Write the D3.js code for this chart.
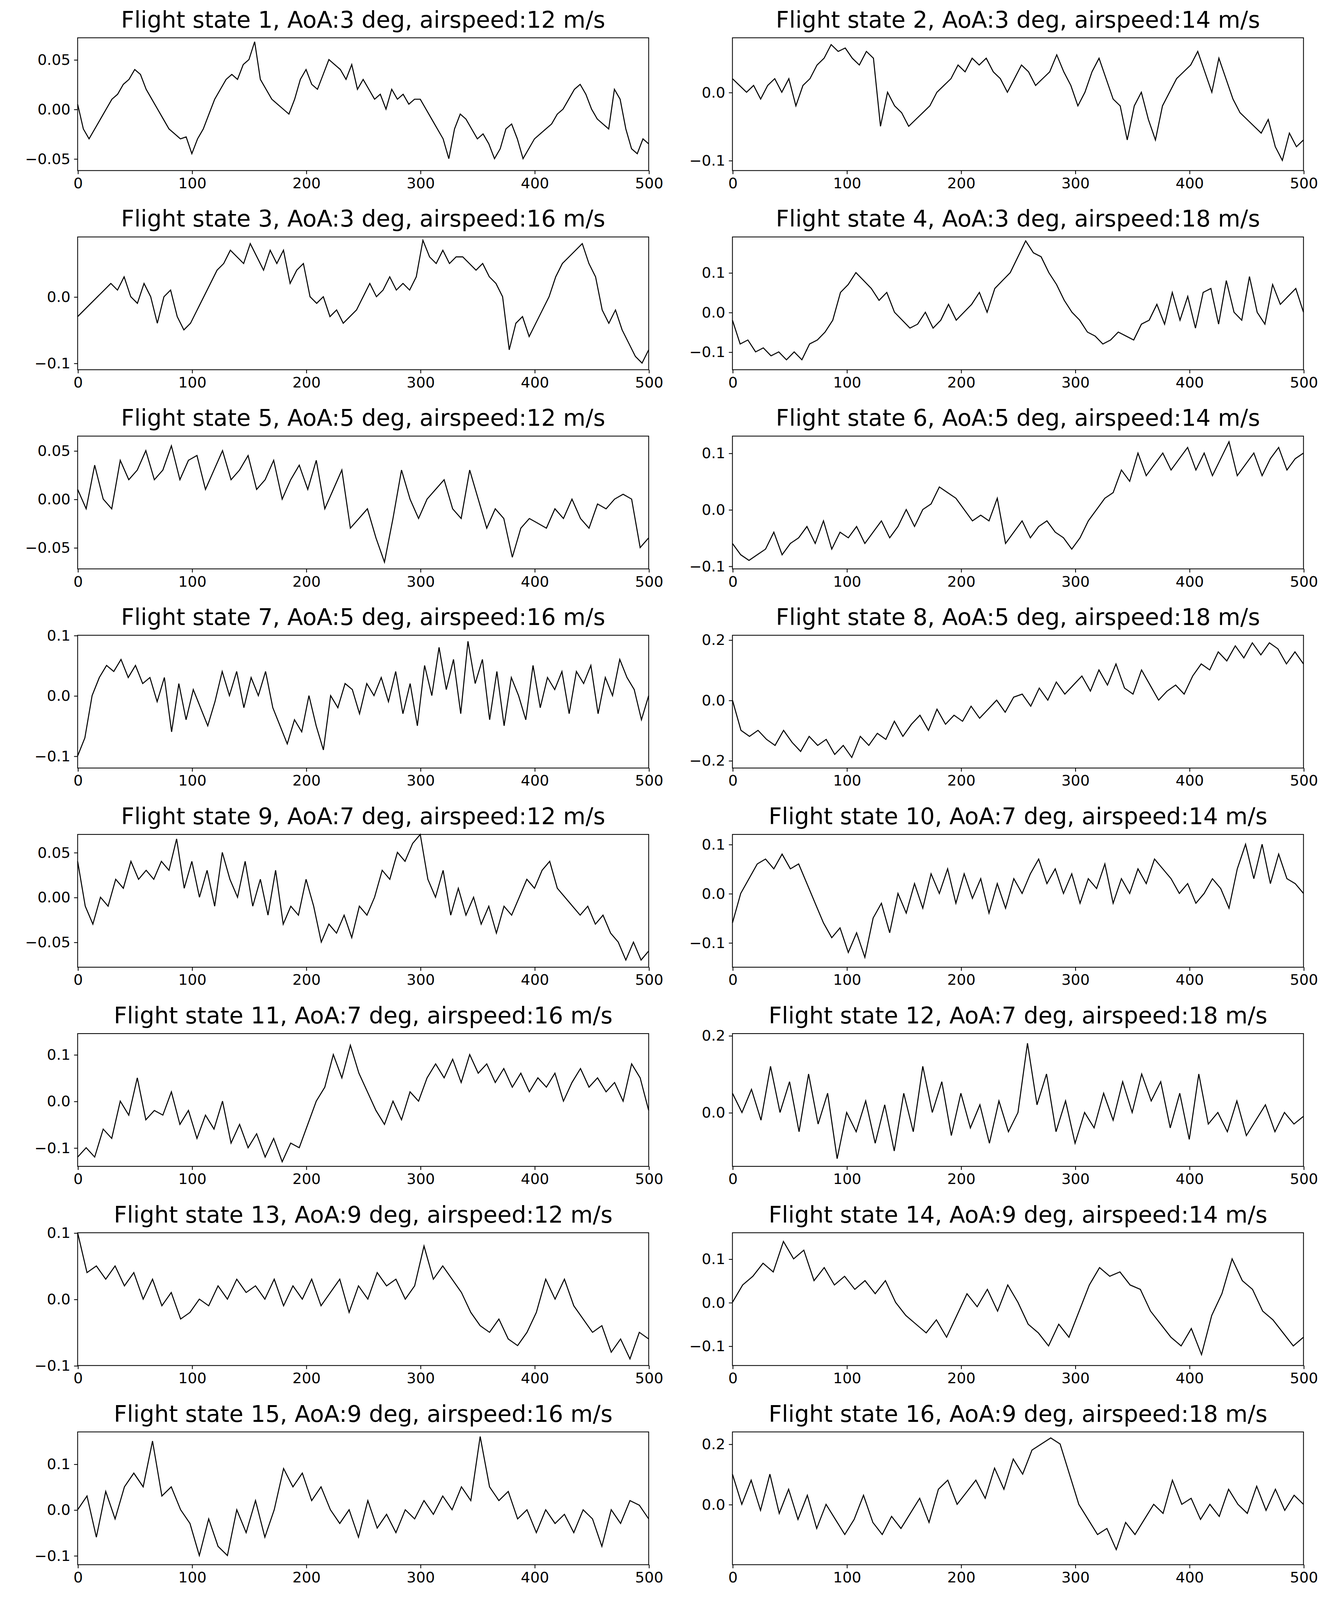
<!DOCTYPE html>
<html><head><meta charset="utf-8">
<script src="https://cdn.jsdelivr.net/npm/d3@7"></script>
<style>body{margin:0;background:#fff}text{font-family:"DejaVu Sans",sans-serif}</style>
</head><body><div id="chart"></div>
<script>
// panel titles
const titles = [];
const aoas = [3,3,3,3,5,5,5,5,7,7,7,7,9,9,9,9];
const speeds = [12,14,16,18,12,14,16,18,12,14,16,18,12,14,16,18];
aoas.forEach((a,i) => titles.push("Flight state " + (i+1) + ", AoA:" + a + " deg, airspeed:" + speeds[i] + " m/s"));

const yDomains = [
  [-0.062,0.072],[-0.115,0.08],[-0.11,0.09],[-0.145,0.19],
  [-0.072,0.065],[-0.105,0.13],[-0.12,0.1],[-0.225,0.215],
  [-0.078,0.07],[-0.15,0.12],[-0.14,0.145],[-0.14,0.205],
  [-0.1,0.1],[-0.145,0.16],[-0.12,0.17],[-0.2,0.24]
];
const yTicks = [
  [-0.05,0,0.05],[-0.1,0],[-0.1,0],[-0.1,0,0.1],
  [-0.05,0,0.05],[-0.1,0,0.1],[-0.1,0,0.1],[-0.2,0,0.2],
  [-0.05,0,0.05],[-0.1,0,0.1],[-0.1,0,0.1],[0,0.2],
  [-0.1,0,0.1],[-0.1,0,0.1],[-0.1,0,0.1],[0,0.2]
];
const xTicks = [0,100,200,300,400,500];

// series values, evenly spaced over samples 0..500
const s1 = [0.005,-0.02,-0.03,-0.02,-0.01,0.0,0.01,0.015,0.025,0.03,0.04,0.035,0.02,0.01,0.0,-0.01,-0.02,-0.025,-0.03,-0.028,-0.045,-0.03,-0.02,-0.005,0.01,0.02,0.03,0.035,0.03,0.045,0.05,0.068,0.03,0.02,0.01,0.005,0.0,-0.005,0.01,0.03,0.04,0.025,0.02,0.035,0.05,0.045,0.04,0.03,0.045,0.02,0.03,0.02,0.01,0.015,0.0,0.02,0.01,0.015,0.005,0.01,0.01,0.0,-0.01,-0.02,-0.03,-0.05,-0.02,-0.005,-0.01,-0.02,-0.03,-0.025,-0.035,-0.05,-0.04,-0.02,-0.015,-0.03,-0.05,-0.04,-0.03,-0.025,-0.02,-0.015,-0.005,0.0,0.01,0.02,0.025,0.015,0.0,-0.01,-0.015,-0.02,0.02,0.01,-0.02,-0.04,-0.045,-0.03,-0.035];
const s2 = [0.02,0.01,0.0,0.01,-0.01,0.01,0.02,0.0,0.02,-0.02,0.01,0.02,0.04,0.05,0.07,0.06,0.065,0.05,0.04,0.06,0.05,-0.05,0.0,-0.02,-0.03,-0.05,-0.04,-0.03,-0.02,0.0,0.01,0.02,0.04,0.03,0.05,0.04,0.05,0.03,0.02,0.0,0.02,0.04,0.03,0.01,0.02,0.03,0.055,0.03,0.01,-0.02,0.0,0.03,0.05,0.02,-0.01,-0.02,-0.07,-0.02,0.0,-0.04,-0.07,-0.02,0.0,0.02,0.03,0.04,0.06,0.03,0.0,0.05,0.02,-0.01,-0.03,-0.04,-0.05,-0.06,-0.04,-0.08,-0.1,-0.06,-0.08,-0.07];
const s3 = [-0.03,-0.02,-0.01,0.0,0.01,0.02,0.01,0.03,0.0,-0.01,0.02,0.0,-0.04,0.0,0.01,-0.03,-0.05,-0.04,-0.02,0.0,0.02,0.04,0.05,0.07,0.06,0.05,0.08,0.06,0.04,0.07,0.05,0.07,0.02,0.04,0.05,0.0,-0.01,0.0,-0.03,-0.02,-0.04,-0.03,-0.02,0.0,0.02,0.0,0.01,0.03,0.01,0.02,0.01,0.03,0.085,0.06,0.05,0.07,0.05,0.06,0.06,0.05,0.04,0.05,0.03,0.02,0.0,-0.08,-0.04,-0.03,-0.06,-0.04,-0.02,0.0,0.03,0.05,0.06,0.07,0.08,0.05,0.03,-0.02,-0.04,-0.02,-0.05,-0.07,-0.09,-0.1,-0.08];
const s4 = [-0.02,-0.08,-0.07,-0.1,-0.09,-0.11,-0.1,-0.12,-0.1,-0.12,-0.08,-0.07,-0.05,-0.02,0.05,0.07,0.1,0.08,0.06,0.03,0.05,0.0,-0.02,-0.04,-0.03,0.0,-0.04,-0.02,0.02,-0.02,0.0,0.02,0.05,0.0,0.06,0.08,0.1,0.14,0.18,0.15,0.14,0.1,0.07,0.03,0.0,-0.02,-0.05,-0.06,-0.08,-0.07,-0.05,-0.06,-0.07,-0.03,-0.02,0.02,-0.03,0.05,-0.02,0.04,-0.04,0.05,0.06,-0.03,0.08,0.0,-0.02,0.09,0.0,-0.03,0.07,0.02,0.04,0.06,0.0];
const s5 = [0.01,-0.01,0.035,0.0,-0.01,0.04,0.02,0.03,0.05,0.02,0.03,0.055,0.02,0.04,0.045,0.01,0.03,0.05,0.02,0.03,0.045,0.01,0.02,0.04,0.0,0.02,0.035,0.01,0.04,-0.01,0.01,0.03,-0.03,-0.02,-0.01,-0.04,-0.065,-0.02,0.03,0.0,-0.02,0.0,0.01,0.02,-0.01,-0.02,0.03,0.0,-0.03,-0.01,-0.02,-0.06,-0.03,-0.02,-0.025,-0.03,-0.01,-0.02,0.0,-0.02,-0.03,-0.005,-0.01,0.0,0.005,0.0,-0.05,-0.04];
const s6 = [-0.06,-0.08,-0.09,-0.08,-0.07,-0.04,-0.08,-0.06,-0.05,-0.03,-0.06,-0.02,-0.07,-0.04,-0.05,-0.03,-0.06,-0.04,-0.02,-0.05,-0.03,0.0,-0.03,0.0,0.01,0.04,0.03,0.02,0.0,-0.02,-0.01,-0.02,0.02,-0.06,-0.04,-0.02,-0.05,-0.03,-0.02,-0.04,-0.05,-0.07,-0.05,-0.02,0.0,0.02,0.03,0.07,0.05,0.1,0.06,0.08,0.1,0.07,0.09,0.11,0.07,0.1,0.06,0.09,0.12,0.06,0.08,0.1,0.06,0.09,0.11,0.07,0.09,0.1];
const s7 = [-0.1,-0.07,0.0,0.03,0.05,0.04,0.06,0.03,0.05,0.02,0.03,-0.01,0.03,-0.06,0.02,-0.04,0.01,-0.02,-0.05,-0.01,0.04,0.0,0.04,-0.02,0.03,0.0,0.04,-0.02,-0.05,-0.08,-0.04,-0.06,0.0,-0.05,-0.09,0.0,-0.02,0.02,0.01,-0.03,0.02,0.0,0.03,-0.01,0.04,-0.03,0.02,-0.05,0.05,0.0,0.08,0.01,0.06,-0.03,0.09,0.02,0.06,-0.04,0.04,-0.05,0.03,0.0,-0.04,0.05,-0.02,0.03,0.01,0.04,-0.03,0.04,0.02,0.05,-0.03,0.03,0.0,0.06,0.03,0.01,-0.04,0.0];
const s8 = [0.0,-0.1,-0.12,-0.1,-0.13,-0.15,-0.1,-0.14,-0.17,-0.12,-0.15,-0.13,-0.18,-0.15,-0.19,-0.12,-0.15,-0.11,-0.13,-0.07,-0.12,-0.08,-0.05,-0.1,-0.03,-0.08,-0.05,-0.07,-0.02,-0.06,-0.03,0.0,-0.04,0.01,0.02,-0.02,0.04,0.0,0.06,0.02,0.05,0.08,0.03,0.1,0.05,0.12,0.04,0.02,0.1,0.05,0.0,0.03,0.05,0.02,0.08,0.12,0.1,0.16,0.13,0.18,0.14,0.19,0.15,0.19,0.17,0.12,0.16,0.12];
const s9 = [0.04,-0.01,-0.03,0.0,-0.01,0.02,0.01,0.04,0.02,0.03,0.02,0.04,0.03,0.065,0.01,0.04,0.0,0.03,-0.01,0.05,0.02,0.0,0.04,-0.01,0.02,-0.02,0.03,-0.03,-0.01,-0.02,0.02,-0.01,-0.05,-0.03,-0.04,-0.02,-0.045,-0.01,-0.02,0.0,0.03,0.02,0.05,0.04,0.06,0.07,0.02,0.0,0.03,-0.02,0.01,-0.02,0.0,-0.03,-0.01,-0.04,-0.01,-0.02,0.0,0.02,0.01,0.03,0.04,0.01,0.0,-0.01,-0.02,-0.01,-0.03,-0.02,-0.04,-0.05,-0.07,-0.05,-0.07,-0.06];
const s10 = [-0.06,0.0,0.03,0.06,0.07,0.05,0.08,0.05,0.06,0.02,-0.02,-0.06,-0.09,-0.07,-0.12,-0.08,-0.13,-0.05,-0.02,-0.08,0.0,-0.04,0.02,-0.03,0.04,0.0,0.05,-0.02,0.04,-0.01,0.03,-0.04,0.02,-0.03,0.03,0.0,0.04,0.07,0.02,0.05,0.0,0.04,-0.02,0.03,0.01,0.06,-0.02,0.03,0.0,0.05,0.02,0.07,0.05,0.03,0.0,0.02,-0.02,0.0,0.03,0.01,-0.03,0.05,0.1,0.03,0.1,0.02,0.08,0.03,0.02,0.0];
const s11 = [-0.12,-0.1,-0.12,-0.06,-0.08,0.0,-0.03,0.05,-0.04,-0.02,-0.03,0.02,-0.05,-0.02,-0.08,-0.03,-0.06,0.0,-0.09,-0.05,-0.1,-0.07,-0.12,-0.08,-0.13,-0.09,-0.1,-0.05,0.0,0.03,0.1,0.05,0.12,0.06,0.02,-0.02,-0.05,0.0,-0.04,0.02,0.0,0.05,0.08,0.05,0.09,0.04,0.1,0.06,0.08,0.04,0.07,0.03,0.06,0.02,0.05,0.03,0.06,0.0,0.04,0.07,0.03,0.05,0.02,0.04,0.0,0.08,0.05,-0.02];
const s12 = [0.05,0.0,0.06,-0.02,0.12,0.0,0.08,-0.05,0.1,-0.03,0.05,-0.12,0.0,-0.05,0.03,-0.08,0.02,-0.1,0.05,-0.05,0.12,0.0,0.08,-0.06,0.05,-0.04,0.02,-0.08,0.03,-0.05,0.0,0.18,0.02,0.1,-0.05,0.03,-0.08,0.0,-0.04,0.05,-0.02,0.08,0.0,0.1,0.03,0.08,-0.04,0.05,-0.07,0.1,-0.03,0.0,-0.05,0.03,-0.06,-0.02,0.02,-0.05,0.0,-0.03,-0.01];
const s13 = [0.1,0.04,0.05,0.03,0.05,0.02,0.04,0.0,0.03,-0.01,0.01,-0.03,-0.02,0.0,-0.01,0.02,0.0,0.03,0.01,0.02,0.0,0.03,-0.01,0.02,0.0,0.03,-0.01,0.01,0.03,-0.02,0.02,0.0,0.04,0.02,0.03,0.0,0.02,0.08,0.03,0.05,0.03,0.01,-0.02,-0.04,-0.05,-0.03,-0.06,-0.07,-0.05,-0.02,0.03,0.0,0.03,-0.01,-0.03,-0.05,-0.04,-0.08,-0.06,-0.09,-0.05,-0.06];
const s14 = [0.0,0.04,0.06,0.09,0.07,0.14,0.1,0.12,0.05,0.08,0.04,0.06,0.03,0.05,0.02,0.05,0.0,-0.03,-0.05,-0.07,-0.04,-0.08,-0.03,0.02,-0.01,0.03,-0.02,0.04,0.0,-0.05,-0.07,-0.1,-0.05,-0.08,-0.02,0.04,0.08,0.06,0.07,0.04,0.03,-0.02,-0.05,-0.08,-0.1,-0.06,-0.12,-0.03,0.02,0.1,0.05,0.03,-0.02,-0.04,-0.07,-0.1,-0.08];
const s15 = [0.0,0.03,-0.06,0.04,-0.02,0.05,0.08,0.05,0.15,0.03,0.05,0.0,-0.03,-0.1,-0.02,-0.08,-0.1,0.0,-0.05,0.02,-0.06,0.0,0.09,0.05,0.08,0.02,0.05,0.0,-0.03,0.0,-0.06,0.02,-0.04,-0.01,-0.05,0.0,-0.02,0.02,-0.01,0.03,0.0,0.05,0.02,0.16,0.05,0.02,0.04,-0.02,0.0,-0.05,0.0,-0.03,-0.01,-0.05,0.0,-0.02,-0.08,0.0,-0.03,0.02,0.01,-0.02];
const s16 = [0.1,0.0,0.08,-0.02,0.1,-0.03,0.05,-0.05,0.03,-0.08,0.0,-0.05,-0.1,-0.05,0.03,-0.06,-0.1,-0.04,-0.08,-0.03,0.02,-0.06,0.05,0.08,0.0,0.04,0.08,0.02,0.12,0.05,0.15,0.1,0.18,0.2,0.22,0.2,0.1,0.0,-0.05,-0.1,-0.08,-0.15,-0.06,-0.1,-0.05,0.0,-0.03,0.08,0.0,0.02,-0.05,0.0,-0.04,0.05,0.0,-0.03,0.06,-0.02,0.05,-0.02,0.03,0.0];
const series = [s1,s2,s3,s4,s5,s6,s7,s8,s9,s10,s11,s12,s13,s14,s15,s16];

const W = 3399, H = 4102, S = W / 1300;
const svg = d3.select("#chart").append("svg").attr("width", W).attr("height", H);
const root = svg.append("g").attr("transform", "scale(" + S + ")");

const colX = [76, 717], pw = 559, ph = 130;

series.forEach((vals, i) => {
  const col = i % 2, row = Math.floor(i / 2);
  const left = colX[col], top = 37 + row * 195;
  const g = root.append("g").attr("transform", "translate(" + left + "," + top + ")");

  const x = d3.scaleLinear().domain([0, 500]).range([0, pw]);
  const y = d3.scaleLinear().domain(yDomains[i]).range([ph, 0]);
  const step = 500 / (vals.length - 1);

  g.append("path")
    .datum(vals)
    .attr("fill", "none")
    .attr("stroke", "#000")
    .attr("stroke-width", 1)
    .attr("d", d3.line().x((d, j) => x(j * step)).y(d => y(d)));

  const dec = (yTicks[i][1] - yTicks[i][0]) < 0.09 ? 2 : 1;
  const ya = g.append("g").call(d3.axisLeft(y).tickValues(yTicks[i]).tickSize(3.5).tickPadding(3.5)
    .tickFormat(d => d3.format("." + dec + "f")(Math.abs(d) < 1e-9 ? 0 : d).replace("-", "\u2212")));
  const xa = g.append("g").attr("transform", "translate(0," + ph + ")")
    .call(d3.axisBottom(x).tickValues(xTicks).tickSize(3.5).tickPadding(3.5));
  [ya, xa].forEach(a => {
    a.select(".domain").remove();
    a.selectAll("text").style("font-size", "14.5px").attr("fill", "#000").style("font-family", "DejaVu Sans");
    a.selectAll("line").attr("stroke", "#000").attr("stroke-width", 0.8);
  });

  g.append("rect").attr("width", pw).attr("height", ph)
    .attr("fill", "none").attr("stroke", "#000").attr("stroke-width", 0.8);

  g.append("text").attr("x", pw / 2).attr("y", -10)
    .attr("text-anchor", "middle").style("font-size", "22.5px").text(titles[i]);
});
</script></body></html>
